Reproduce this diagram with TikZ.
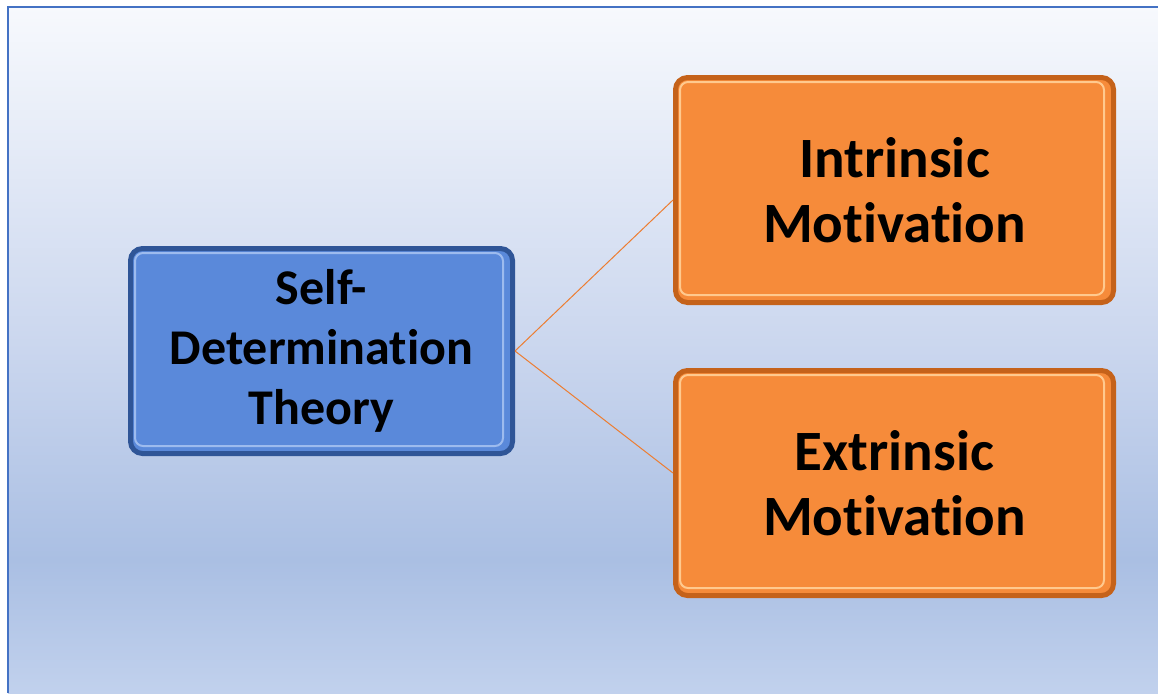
\documentclass[tikz,border=0pt]{standalone}
\usepackage{fontspec}
\setmainfont[RawFeature={-liga;-dlig;-clig}]{Carlito}
\definecolor{bgtop}{HTML}{F7F9FD}
\definecolor{bgmid}{HTML}{CAD6EE}
\definecolor{bglow}{HTML}{AABFE3}
\definecolor{bgbot}{HTML}{C1D1ED}
\definecolor{frameblue}{HTML}{4472C4}
\definecolor{blueface}{HTML}{5A89DA}
\definecolor{blueedge}{HTML}{2F5597}
\definecolor{bluehl}{HTML}{9DBBEE}
\definecolor{orangeface}{HTML}{F68B3A}
\definecolor{orangeedge}{HTML}{C5621A}
\definecolor{orangehl}{HTML}{FFC98E}
\definecolor{linkorange}{HTML}{ED7D31}
\pgfdeclareverticalshading{bgshade}{100bp}{color(0bp)=(bgbot); color(25bp)=(bgbot); color(34.7bp)=(bglow); color(50bp)=(bgmid); color(75bp)=(bgtop); color(100bp)=(bgtop)}
\tikzset{
  boxbase/.style={line width=5pt, rounded corners=12pt, inner sep=0pt, align=center},
  bluebox/.style={boxbase, draw=blueedge, fill=blueface, minimum width=382pt, minimum height=205pt, font=\fontsize{50}{60}\selectfont\bfseries},
  orangebox/.style={boxbase, draw=orangeedge, fill=orangeface, minimum width=438pt, minimum height=225pt, font=\fontsize{57}{65}\selectfont\bfseries},
  link/.style={draw=linkorange, line width=1pt},
  bluehlline/.style={draw=bluehl, line width=2pt, rounded corners=8pt},
  orangehlline/.style={draw=orangehl, line width=2pt, rounded corners=8pt}
}
\begin{document}
\begin{tikzpicture}[x=1pt,y=-1pt]
\useasboundingbox (0,0) rectangle (1158,693);
\fill[white] (0,0) rectangle (1158,693);
\shade[shading=bgshade] (8,7) rectangle (1158,693);
\draw[frameblue, line width=2.6pt] (8,693) -- (8,7) -- (1158,7);

\node[bluebox] (sdt) at (321.5,351) {Self-\\Determination\\Theory};
\node[orangebox] (im) at (894.5,190) {Intrinsic\\Motivation};
\node[orangebox] (em) at (894.5,483) {Extrinsic\\Motivation};

\draw[bluehlline] ([xshift=7pt,yshift=-7pt]sdt.north west) rectangle ([xshift=-12pt,yshift=10pt]sdt.south east);
\draw[orangehlline] ([xshift=7pt,yshift=-7pt]im.north west) rectangle ([xshift=-12pt,yshift=10pt]im.south east);
\draw[orangehlline] ([xshift=7pt,yshift=-7pt]em.north west) rectangle ([xshift=-12pt,yshift=10pt]em.south east);

\draw[link] (sdt.east) -- ([yshift=-10pt]im.west);
\draw[link] (sdt.east) -- ([yshift=10pt]em.west);
\end{tikzpicture}
\end{document}
